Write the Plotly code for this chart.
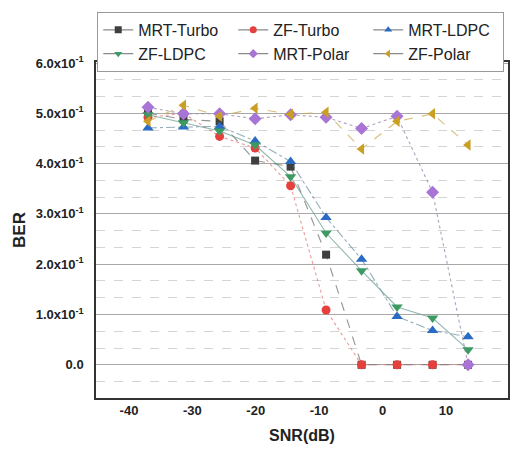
import plotly.graph_objects as go

snr = [-37.0, -31.4, -25.7, -20.1, -14.5, -8.9, -3.3, 2.3, 7.9, 13.5]

mrt_turbo = [0.500, 0.488, 0.484, 0.406, 0.394, 0.219, 0.0, 0.0, 0.0, 0.0]
zf_turbo  = [0.492, 0.500, 0.454, 0.431, 0.356, 0.109, 0.0, 0.0, 0.0, 0.0]
mrt_ldpc  = [0.471, 0.473, 0.474, 0.445, 0.404, 0.293, 0.210, 0.096, 0.068, 0.056]
zf_ldpc   = [0.497, 0.481, 0.465, 0.437, 0.374, 0.262, 0.187, 0.115, 0.093, 0.030]
mrt_polar = [0.512, 0.499, 0.499, 0.489, 0.497, 0.492, 0.470, 0.494, 0.343, 0.0]
zf_polar  = [0.484, 0.516, 0.494, 0.510, 0.498, 0.502, 0.429, 0.484, 0.499, 0.437]

names = ["MRT-Turbo", "ZF-Turbo", "MRT-LDPC", "ZF-LDPC", "MRT-Polar", "ZF-Polar"]
series = [mrt_turbo, zf_turbo, mrt_ldpc, zf_ldpc, mrt_polar, zf_polar]
colors = ["#3f3f3f", "#e5403c", "#2a6cc4", "#3d9a62", "#a874d6", "#c9a024"]
line_colors = ["rgba(90,90,90,0.65)", "rgba(225,120,120,0.75)", "rgba(90,130,150,0.65)",
               "rgba(110,160,150,0.75)", "rgba(150,130,170,0.75)", "rgba(200,170,80,0.75)"]
dashes = ["dash", "dot", "dashdot", "solid", "dot", "dash"]
symbols = ["square", "circle", "triangle-up", "triangle-down", "diamond", "triangle-left"]
sizes = [8, 9, 10, 10, 10, 10]

y_ticks = [0.0, 0.1, 0.2, 0.3, 0.4, 0.5, 0.6]
y_labels = ["0.0", "1.0x10<sup>-1</sup>", "2.0x10<sup>-1</sup>", "3.0x10<sup>-1</sup>",
            "4.0x10<sup>-1</sup>", "5.0x10<sup>-1</sup>", "6.0x10<sup>-1</sup>"]
x_ticks = [-40, -30, -20, -10, 0, 10, 20]
x_labels = ["-40", "-30", "-20", "-10", "0", "10", "20"]

fig = go.Figure()
for n, s, c, lc, d, sym, sz in zip(names, series, colors, line_colors, dashes, symbols, sizes):
    fig.add_trace(go.Scatter(
        x=snr, y=s, name=n, mode="lines+markers", showlegend=False,
        line=dict(color=lc, width=1.1, dash=d),
        marker=dict(symbol=sym, size=sz, color=c),
    ))
# legend entries (gray solid line with small marker, as in the reference legend)
for n, c, sym in zip(names, colors, symbols):
    fig.add_trace(go.Scatter(
        x=[None], y=[None], name=n, mode="lines+markers",
        line=dict(color="#8a8a8a", width=1.2),
        marker=dict(symbol=sym, size=7, color=c),
    ))

fig.update_layout(
    width=520, height=454,
    margin=dict(l=96, r=10, t=62, b=56),
    plot_bgcolor="white", paper_bgcolor="white",
    font=dict(family="Liberation Sans, Arial", color="#222"),
    legend=dict(
        orientation="h", x=0.003, y=1.149, xanchor="left", yanchor="top",
        bordercolor="#999", borderwidth=1, bgcolor="white",
        font=dict(size=16, color="#222"),
        entrywidth=90, entrywidthmode="pixels",
        tracegroupgap=0,
    ),
    xaxis=dict(
        range=[-45.2, 19.8], tickvals=x_ticks, ticktext=x_labels,
        showgrid=False, zeroline=False,
        showline=True, linecolor="#333", linewidth=1.5, mirror=True,
        tickfont=dict(size=13, weight="bold"),
        title=dict(text="<b>SNR(dB)</b>", font=dict(size=16), standoff=12),
    ),
    yaxis=dict(
        range=[-0.066, 0.602], tickvals=y_ticks, ticktext=y_labels,
        showgrid=True, gridcolor="#a8a8a8", gridwidth=1, zeroline=False,
        showline=True, linecolor="#333", linewidth=1.5, mirror=True,
        ticklabelstandoff=8,
        tickfont=dict(size=13, weight="bold"),
        minor=dict(dtick=0.1/3, tick0=0, showgrid=True, gridcolor="#d4d4d4",
                   griddash="dash", gridwidth=1),
        title=dict(text="<b>BER</b>", font=dict(size=17), standoff=6),
    ),
)

fig.write_html("out.html")
